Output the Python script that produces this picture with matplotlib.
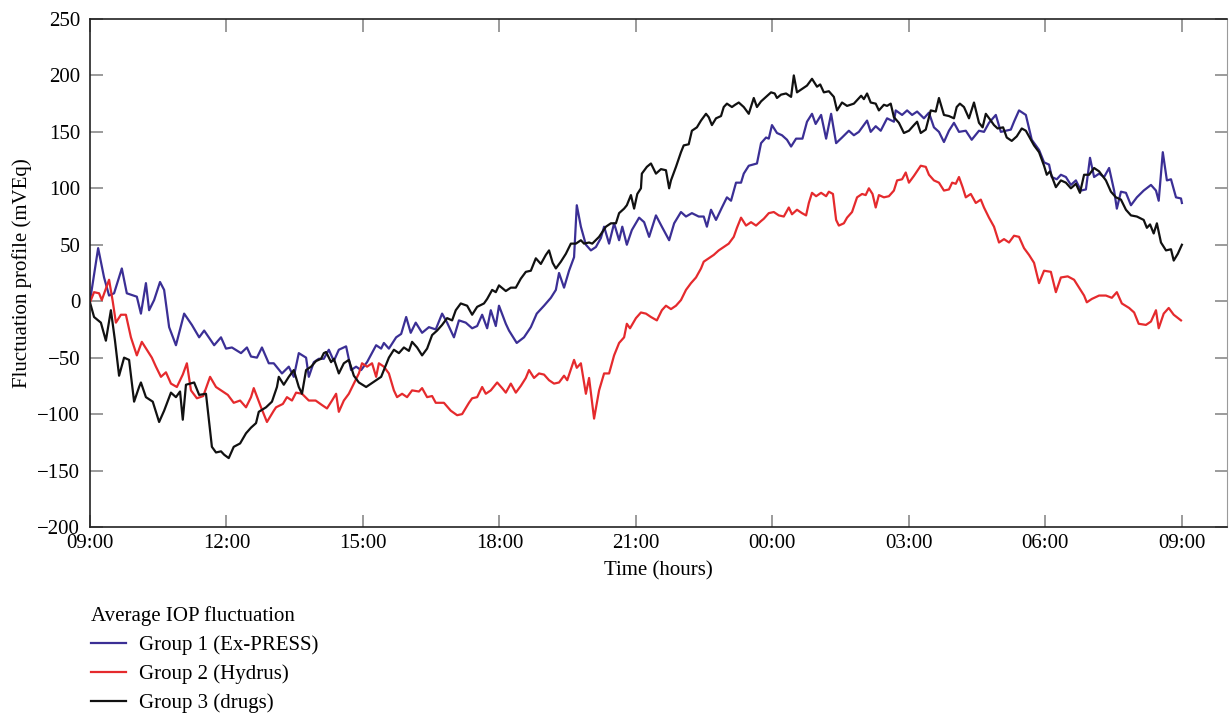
import matplotlib
matplotlib.use('Agg')
import matplotlib.pyplot as plt

plt.rcParams['font.family'] = ['Liberation Serif', 'DejaVu Serif']

# hours after 09:00, values in mVEq
g1_t = [0.00, 0.18, 0.31, 0.42, 0.53, 0.70, 0.81, 1.03, 1.12, 1.23, 1.30, 1.41, 1.54, 1.63, 1.74, 1.89,
        2.07, 2.24, 2.40, 2.51, 2.73, 2.88, 2.99, 3.12, 3.32, 3.45, 3.54, 3.67, 3.78, 3.93, 4.04, 4.22,
        4.37, 4.48, 4.59, 4.75, 4.81, 4.92, 5.03, 5.14, 5.25, 5.36, 5.47, 5.63, 5.74, 5.85, 5.96, 6.09,
        6.29, 6.40, 6.46, 6.57, 6.73, 6.84, 6.95, 7.05, 7.16, 7.30, 7.45, 7.60, 7.74, 7.85, 8.00, 8.11,
        8.26, 8.40, 8.51, 8.62, 8.73, 8.81, 8.92, 8.99, 9.14, 9.21, 9.38, 9.54, 9.69, 9.82, 9.98, 10.13,
        10.24, 10.31, 10.42, 10.53, 10.64, 10.70, 10.79, 10.90, 11.01, 11.12, 11.23, 11.30, 11.41, 11.52,
        11.63, 11.70, 11.80, 11.91, 12.07, 12.18, 12.29, 12.44, 12.57, 12.73, 12.84, 12.99, 13.10, 13.23,
        13.38, 13.49, 13.56, 13.65, 13.76, 13.89, 14.00, 14.09, 14.20, 14.31, 14.37, 14.48, 14.66, 14.75,
        14.86, 14.92, 14.99, 15.10, 15.21, 15.32, 15.41, 15.52, 15.66, 15.76, 15.87, 15.95, 16.07, 16.18,
        16.29, 16.40, 16.53, 16.68, 16.79, 16.90, 17.08, 17.16, 17.27, 17.38, 17.52, 17.67, 17.71, 17.85,
        17.96, 18.07, 18.18, 18.33, 18.44, 18.55, 18.66, 18.77, 18.88, 18.99, 19.10, 19.25, 19.38, 19.54,
        19.65, 19.76, 19.91, 20.02, 20.13, 20.24, 20.31, 20.42, 20.57, 20.70, 20.86, 20.97, 21.08, 21.14,
        21.25, 21.34, 21.45, 21.56, 21.67, 21.78, 21.89, 21.98, 22.07, 22.18, 22.29, 22.40, 22.51, 22.57,
        22.66, 22.77, 22.88, 23.01, 23.16, 23.32, 23.43, 23.49, 23.58, 23.67, 23.76, 23.87, 23.98, 24.00]
g1_v = [0, 47, 21, 5, 7, 29, 7, 4, -11, 16, -8, 1, 17, 10, -23, -39,
        -11, -21, -32, -26, -39, -32, -42, -41, -46, -41, -49, -50, -41, -55, -55, -64,
        -58, -67, -46, -50, -67, -54, -51, -51, -43, -53, -43, -40, -61, -58, -61, -54,
        -39, -42, -37, -42, -32, -29, -14, -28, -19, -28, -23, -25, -11, -19, -32, -17,
        -19, -24, -22, -12, -24, -8, -22, -4, -20, -26, -37, -32, -23, -11, -4, 3,
        10, 25, 12, 27, 39, 85, 66, 50, 45, 48, 56, 66, 51, 69,
        54, 66, 50, 63, 74, 70, 57, 76, 66, 54, 69, 79, 75, 78,
        75, 75, 66, 81, 72, 83, 92, 89, 105, 105, 113, 120, 122, 140,
        145, 144, 156, 149, 147, 143, 137, 144, 144, 159, 166, 157, 165, 144,
        166, 140, 145, 151, 147, 150, 160, 150, 155, 151, 162, 159, 169, 165,
        169, 165, 168, 162, 167, 154, 150, 141, 151, 158, 150, 151, 143, 151,
        150, 158, 165, 150, 151, 152, 159, 169, 165, 143, 134, 123, 121, 110,
        108, 112, 110, 103, 107, 98, 99, 127, 110, 113, 110, 118, 98, 82,
        97, 96, 85, 92, 98, 103, 98, 89, 132, 107, 108, 92, 91, 87]

g2_t = [0.00, 0.09, 0.20, 0.26, 0.42, 0.50, 0.57, 0.68, 0.79, 0.90, 1.03, 1.14, 1.25, 1.36, 1.45, 1.56,
        1.67, 1.78, 1.91, 2.04, 2.13, 2.22, 2.35, 2.49, 2.64, 2.77, 2.88, 3.03, 3.16, 3.30, 3.43, 3.54,
        3.60, 3.76, 3.89, 4.04, 4.09, 4.24, 4.33, 4.44, 4.53, 4.66, 4.81, 4.96, 5.10, 5.21, 5.32, 5.41,
        5.47, 5.58, 5.69, 5.80, 5.91, 5.98, 6.09, 6.20, 6.29, 6.35, 6.46, 6.57, 6.68, 6.75, 6.86, 6.97,
        7.08, 7.23, 7.30, 7.41, 7.52, 7.60, 7.67, 7.78, 7.93, 8.07, 8.18, 8.33, 8.40, 8.51, 8.62, 8.70,
        8.81, 8.95, 9.06, 9.14, 9.25, 9.36, 9.47, 9.58, 9.65, 9.76, 9.87, 9.98, 10.09, 10.20, 10.31, 10.42,
        10.49, 10.64, 10.70, 10.79, 10.90, 10.97, 11.08, 11.19, 11.30, 11.41, 11.52, 11.63, 11.74, 11.80,
        11.87, 12.00, 12.11, 12.22, 12.33, 12.46, 12.57, 12.66, 12.77, 12.88, 12.99, 13.10, 13.21, 13.32,
        13.43, 13.49, 13.60, 13.71, 13.82, 13.93, 14.04, 14.15, 14.22, 14.31, 14.42, 14.53, 14.64, 14.75,
        14.81, 14.92, 15.03, 15.14, 15.25, 15.36, 15.43, 15.54, 15.65, 15.74, 15.80, 15.87, 15.96, 16.07,
        16.18, 16.24, 16.33, 16.40, 16.46, 16.57, 16.64, 16.75, 16.86, 16.97, 17.05, 17.12, 17.20, 17.27,
        17.34, 17.45, 17.56, 17.67, 17.74, 17.85, 17.93, 18.00, 18.11, 18.26, 18.37, 18.44, 18.55, 18.66,
        18.77, 18.88, 18.95, 19.03, 19.10, 19.18, 19.25, 19.36, 19.47, 19.58, 19.65, 19.76, 19.87, 19.98,
        20.09, 20.20, 20.31, 20.42, 20.53, 20.64, 20.75, 20.86, 20.97, 21.12, 21.23, 21.34, 21.49, 21.63,
        21.74, 21.85, 21.91, 22.02, 22.18, 22.33, 22.46, 22.57, 22.68, 22.84, 22.95, 23.05, 23.21, 23.32,
        23.43, 23.49, 23.60, 23.71, 23.82, 23.98]
g2_v = [-1, 8, 7, 1, 19, 0, -19, -12, -12, -32, -48, -36, -43, -50, -58, -67,
        -63, -73, -76, -65, -55, -79, -86, -84, -67, -76, -79, -83, -90, -88, -94, -85,
        -77, -94, -107, -97, -94, -91, -85, -88, -81, -82, -88, -88, -92, -95, -88, -82,
        -98, -88, -82, -73, -64, -55, -58, -55, -67, -55, -58, -64, -79, -85, -82, -85,
        -79, -80, -77, -85, -84, -90, -90, -90, -97, -101, -100, -90, -86, -85, -76, -82,
        -79, -72, -77, -81, -73, -81, -75, -68, -61, -68, -64, -65, -70, -73, -72, -66,
        -70, -52, -59, -55, -82, -68, -104, -79, -64, -64, -48, -37, -32, -20,
        -24, -15, -10, -11, -14, -17, -8, -4, -7, -4, 1, 10, 16, 21,
        29, 35, 38, 41, 45, 48, 51, 57, 65, 74, 67, 70, 67, 71,
        73, 78, 79, 76, 75, 83, 77, 81, 78, 76, 87, 96, 93, 96,
        93, 97, 95, 72, 67, 69, 74, 79, 92, 95, 94, 100, 95, 83,
        94, 92, 93, 98, 107, 108, 114, 105, 111, 120, 119, 112, 107, 105,
        98, 99, 105, 104, 110, 101, 92, 95, 87, 90, 83, 74, 66, 52,
        55, 52, 58, 57, 47, 41, 34, 16, 27, 26, 8, 21, 22, 19,
        12, 5, -1, 2, 5, 5, 3, 8, -2, -6, -10, -20, -21, -18,
        -8, -24, -11, -6, -12, -17]

g3_t = [0.00, 0.09, 0.24, 0.35, 0.46, 0.55, 0.64, 0.75, 0.86, 0.97, 1.08, 1.12, 1.23, 1.38, 1.52, 1.63,
        1.78, 1.89, 1.98, 2.04, 2.11, 2.29, 2.40, 2.55, 2.68, 2.77, 2.88, 2.95, 3.05, 3.16, 3.30, 3.43,
        3.54, 3.65, 3.71, 3.87, 4.00, 4.11, 4.15, 4.26, 4.37, 4.48, 4.59, 4.66, 4.75, 4.86, 4.97, 5.08,
        5.14, 5.19, 5.30, 5.36, 5.47, 5.58, 5.69, 5.80, 5.91, 6.07, 6.18, 6.29, 6.40, 6.46, 6.57, 6.68,
        6.79, 6.90, 7.01, 7.08, 7.19, 7.30, 7.41, 7.52, 7.63, 7.74, 7.85, 7.96, 8.04, 8.15, 8.29, 8.40,
        8.51, 8.66, 8.73, 8.84, 8.92, 8.99, 9.14, 9.25, 9.36, 9.47, 9.58, 9.69, 9.80, 9.91, 10.02, 10.09,
        10.17, 10.24, 10.35, 10.46, 10.57, 10.68, 10.79, 10.86, 10.97, 11.04, 11.19, 11.34, 11.45, 11.56,
        11.63, 11.74, 11.80, 11.89, 11.96, 12.03, 12.11, 12.13, 12.24, 12.33, 12.44, 12.55, 12.66, 12.73,
        12.77, 12.88, 12.99, 13.05, 13.16, 13.23, 13.34, 13.43, 13.54, 13.60, 13.67, 13.76, 13.87, 13.93,
        14.00, 14.11, 14.18, 14.26, 14.37, 14.48, 14.59, 14.66, 14.75, 14.86, 14.97, 15.05, 15.10, 15.19,
        15.30, 15.41, 15.47, 15.54, 15.65, 15.76, 15.87, 15.98, 16.05, 16.13, 16.24, 16.35, 16.42, 16.53,
        16.64, 16.79, 16.95, 17.01, 17.08, 17.16, 17.27, 17.34, 17.45, 17.52, 17.60, 17.67, 17.78, 17.89,
        18.00, 18.11, 18.18, 18.26, 18.37, 18.48, 18.59, 18.66, 18.77, 18.88, 18.99, 19.05, 19.12, 19.21,
        19.32, 19.43, 19.54, 19.62, 19.69, 19.80, 19.87, 19.95, 20.07, 20.15, 20.26, 20.37, 20.48, 20.57,
        20.75, 20.86, 20.97, 21.03, 21.10, 21.23, 21.34, 21.45, 21.56, 21.67, 21.76, 21.85, 21.96, 22.07,
        22.18, 22.33, 22.44, 22.55, 22.66, 22.77, 22.88, 23.01, 23.16, 23.23, 23.30, 23.38, 23.45, 23.54,
        23.65, 23.76, 23.82, 23.91, 24.00]
g3_v = [-1, -14, -19, -35, -8, -35, -66, -50, -52, -89, -76, -72, -85, -89, -107, -97,
        -81, -85, -80, -105, -74, -72, -83, -82, -129, -134, -133, -136, -139, -129, -126, -117,
        -112, -108, -98, -94, -89, -76, -67, -74, -67, -61, -76, -82, -61, -58, -53, -51,
        -46, -45, -54, -51, -64, -55, -52, -66, -72, -76, -73, -70, -67, -61, -50, -43,
        -46, -41, -44, -36, -41, -48, -42, -30, -26, -21, -15, -17, -8, -2, -4, -12,
        -5, -2, 2, 10, 8, 14, 9, 12, 12, 20, 26, 27, 38, 33, 41, 45,
        34, 29, 35, 42, 51, 51, 54, 51, 52, 51, 57, 66, 69, 69,
        78, 82, 85, 94, 82, 95, 100, 113, 119, 122, 113, 117, 116, 100,
        107, 119, 132, 138, 139, 151, 154, 160, 166, 163, 156, 162, 164, 172,
        175, 172, 174, 176, 172, 166, 180, 172, 177, 181, 185, 184, 180, 183,
        184, 181, 200, 185, 188, 191, 197, 190, 192, 185, 186, 181, 169, 176,
        173, 175, 182, 179, 184, 176, 175, 169, 174, 173, 175, 163, 158, 149,
        151, 156, 159, 149, 152, 169, 168, 180, 165, 164, 162, 172, 175, 172,
        162, 176, 158, 154, 166, 160, 156, 153, 154, 145, 142, 146, 153, 151,
        138, 132, 120, 112, 115, 101, 107, 105, 100, 104, 96, 112, 112, 118,
        115, 107, 97, 92, 90, 81, 76, 75, 72, 65, 68, 60, 69, 52,
        45, 46, 36, 42, 50]

tick_hours = [0, 3, 6, 9, 12, 15, 18, 21, 24]
tick_labels = ['09:00', '12:00', '15:00', '18:00', '21:00', '00:00', '03:00', '06:00', '09:00']
y_ticks = list(range(-200, 251, 50))


def main():
    fig = plt.figure(figsize=(12.29, 7.16), dpi=100)
    ax = fig.add_axes([0.0732, 0.264, 0.9255, 0.7095])

    ax.plot(g1_t, g1_v, color='#3b2f95', lw=1.6, label='Group 1 (Ex-PRESS)')
    ax.plot(g2_t, g2_v, color='#e52a2d', lw=1.6, label='Group 2 (Hydrus)')
    ax.plot(g3_t, g3_v, color='#111111', lw=1.6, label='Group 3 (drugs)')

    fs = 15
    ax.set_xlim(0, 25)
    ax.set_ylim(-200, 250)
    ax.set_xticks(tick_hours)
    ax.set_xticklabels(tick_labels)
    ax.set_yticks(y_ticks)
    ax.set_yticklabels([('\u2212%d' % -v) if v < 0 else str(v) for v in y_ticks])
    ax.tick_params(direction='in', length=9, width=1.2, color='#8a8a8a',
                   top=True, right=True, labelsize=fs)
    ax.tick_params(axis='y', pad=7)
    ax.tick_params(axis='x', pad=5)
    for s in ['left', 'bottom', 'top']:
        ax.spines[s].set_color('#222222')
        ax.spines[s].set_linewidth(1.2)
    ax.spines['right'].set_color('#9a9a9a')

    ax.set_xlabel('Time (hours)', fontsize=fs, labelpad=6)
    ax.set_ylabel('Fluctuation profile (mVEq)', fontsize=fs, labelpad=4)

    ax.legend(loc='upper left', bbox_to_anchor=(0.062, 0.174), bbox_transform=fig.transFigure,
              frameon=False, fontsize=fs, title='Average IOP fluctuation', title_fontsize=fs,
              handlelength=1.7, handletextpad=0.6, labelspacing=0.45, alignment='left',
              borderpad=0.2)

    fig.savefig('out.png', dpi=100)


if __name__ == '__main__':
    main()
